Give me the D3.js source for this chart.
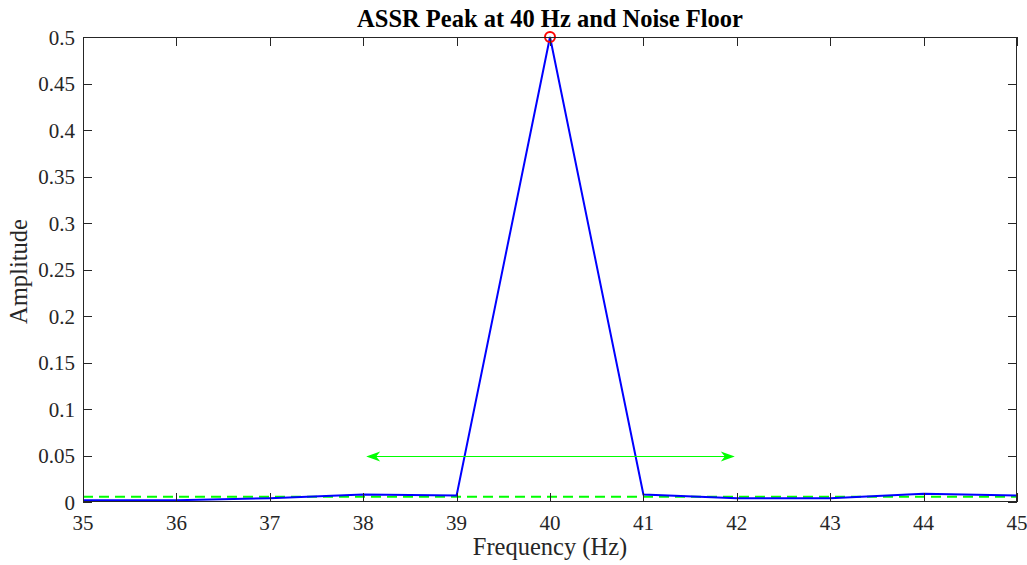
<!DOCTYPE html>
<html><head><meta charset="utf-8">
<script src="https://cdn.jsdelivr.net/npm/d3@7"></script>
<style>body{margin:0;background:#fff}svg{display:block}</style>
</head><body>
<svg id="c" width="1027" height="565"></svg>
<script>
const freqs = [35,36,37,38,39,40,41,42,43,44,45];
const amps = [0.0018,0.002,0.004,0.008,0.007,0.5,0.008,0.004,0.004,0.009,0.007];
const noiseFloor = 0.0056;
const peakFreq = 40, peakAmp = 0.5;
const arrowFrom = 38, arrowTo = 42, arrowY = 0.05;
const xTicks = d3.range(35,46,1);
const yTicks = [0,0.05,0.1,0.15,0.2,0.25,0.3,0.35,0.4,0.45,0.5];
const title = "ASSR Peak at 40 Hz and Noise Floor";
const xLabel = "Frequency (Hz)", yLabel = "Amplitude";

const svg = d3.select("#c");
const L=83, R=1017, T=37, B=502;
const x = d3.scaleLinear().domain([35,45]).range([L,R]);
const y = d3.scaleLinear().domain([0,0.5]).range([B,T]);
const font = "'Liberation Serif','Times New Roman',serif";

svg.append("rect").attr("x",L).attr("y",T).attr("width",R-L).attr("height",B-T).attr("fill","#fff");

// noise floor dashed
svg.append("line").attr("x1",x(35)).attr("x2",x(45)).attr("y1",y(noiseFloor)).attr("y2",y(noiseFloor))
  .attr("stroke","#00ff00").attr("stroke-width",2).attr("stroke-dasharray","10,6");

// spectrum
svg.append("path").datum(freqs.map((f,i)=>[f,amps[i]]))
  .attr("d",d3.line().x(d=>x(d[0])).y(d=>y(d[1])))
  .attr("fill","none").attr("stroke","#0000ff").attr("stroke-width",2);

// peak marker
svg.append("circle").attr("cx",x(peakFreq)).attr("cy",y(peakAmp)).attr("r",5)
  .attr("fill","none").attr("stroke","#ff0000").attr("stroke-width",2);

// double arrow
const ay=Math.round(y(arrowY))+0.5, ax1=x(arrowFrom)+3, ax2=x(arrowTo)-2;
svg.append("line").attr("x1",ax1+4).attr("x2",ax2-4).attr("y1",ay).attr("y2",ay)
  .attr("stroke","#00ff00").attr("stroke-width",1);
function head(tip, dir){
  const p=[[tip,ay],[tip-dir*14,ay-5],[tip-dir*10,ay],[tip-dir*14,ay+5]];
  svg.append("path").attr("d","M"+p.join("L")+"Z").attr("fill","#00ff00");
}
head(ax1,-1); head(ax2,1);

// box & ticks
const g = svg.append("g").attr("stroke","#262626").attr("stroke-width",1).attr("fill","none");
g.append("rect").attr("x",L+0.5).attr("y",T+0.5).attr("width",R-L-1).attr("height",B-T-1);
const tl=9;
xTicks.forEach(t=>{
  const px=Math.round(x(t))+0.5;
  g.append("line").attr("x1",px).attr("x2",px).attr("y1",B).attr("y2",B-tl);
  g.append("line").attr("x1",px).attr("x2",px).attr("y1",T).attr("y2",T+tl);
});
yTicks.forEach(t=>{
  const py=Math.round(y(t))+0.5;
  g.append("line").attr("x1",L).attr("x2",L+tl).attr("y1",py).attr("y2",py);
  g.append("line").attr("x1",R).attr("x2",R-tl).attr("y1",py).attr("y2",py);
});

const txt = svg.append("g").attr("font-family",font).attr("fill","#262626");
xTicks.forEach(t=>{
  txt.append("text").attr("x",x(t)).attr("y",B+28).attr("text-anchor","middle")
    .attr("font-size",21).text(t);
});
yTicks.forEach(t=>{
  txt.append("text").attr("x",L-8).attr("y",y(t)+7.5).attr("text-anchor","end")
    .attr("font-size",21).text(d3.format("~g")(t));
});
txt.append("text").attr("x",(L+R)/2).attr("y",555).attr("text-anchor","middle").attr("font-size",24.5).text(xLabel);
txt.append("text").attr("transform",`translate(27,${(T+B)/2+2}) rotate(-90)`).attr("text-anchor","middle").attr("font-size",24.5).text(yLabel);
svg.append("text").attr("x",(L+R)/2).attr("y",27).attr("text-anchor","middle").attr("font-family",font)
  .attr("font-weight","bold").attr("font-size",24.5).attr("fill","#000").text(title);
</script>
</body></html>
